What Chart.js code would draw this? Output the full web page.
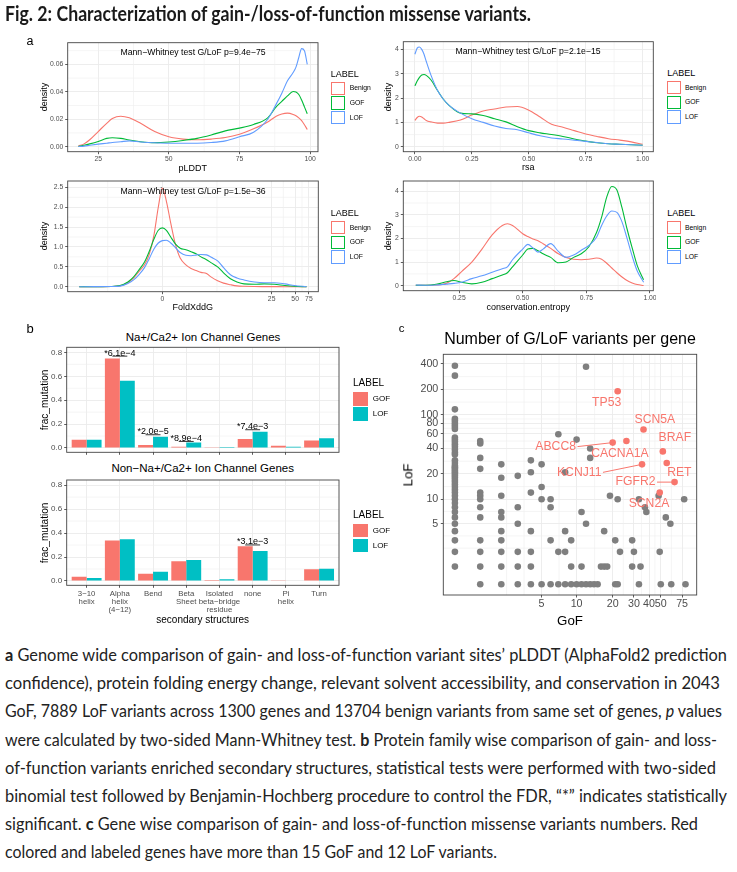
<!DOCTYPE html>
<html><head><meta charset="utf-8"><title>Fig. 2</title>
<script src="https://cdn.jsdelivr.net/npm/chart.js@4.4.1/dist/chart.umd.min.js"></script>
<style>
html,body{margin:0;padding:0;background:#fff;}
#fig{position:relative;width:737px;height:872px;overflow:hidden;font-family:'Liberation Sans',Arial,sans-serif;}
.t{position:absolute;white-space:nowrap;line-height:1;color:#000;}
.fit{position:absolute;left:5px;white-space:nowrap;transform-origin:0 50%;}
.cap{font-family:Lato,'Open Sans',sans-serif;font-size:17px;line-height:20px;color:#222;}
.ttl{font-family:Lato,'Open Sans',sans-serif;font-weight:bold;font-size:20px;line-height:22px;color:#1a1a1a;}
.key{position:absolute;box-sizing:border-box;}
.box{position:absolute;}
</style></head>
<body><div id="fig"></div>
<script>
// ---------------- DATA ----------------
// Panel a: density curves
const plddtX      = [18,20,22,25,28,30,33,36,40,45,50,55,60,65,70,75,80,85,88,90,92,94,95,96,97,98,99];
const plddtBenign = [0.0005,0.002,0.005,0.011,0.017,0.0205,0.0222,0.021,0.017,0.011,0.0072,0.0055,0.005,0.0055,0.0066,0.009,0.013,0.018,0.0222,0.0238,0.0244,0.0235,0.0225,0.021,0.019,0.016,0.0125];
const plddtGOF    = [0.0002,0.001,0.002,0.0038,0.006,0.0065,0.006,0.0048,0.0036,0.0029,0.0034,0.0045,0.006,0.0085,0.0115,0.0135,0.0162,0.021,0.029,0.033,0.037,0.0402,0.0398,0.038,0.034,0.029,0.024];
const plddtLOF    = [0.0001,0.0004,0.001,0.0018,0.0025,0.003,0.0036,0.0042,0.0034,0.0028,0.0025,0.0025,0.0025,0.003,0.0042,0.0072,0.0105,0.02,0.031,0.039,0.048,0.054,0.058,0.065,0.0715,0.07,0.06];

const rsaX      = [0,0.01,0.02,0.03,0.04,0.05,0.07,0.1,0.125,0.15,0.2,0.25,0.3,0.35,0.4,0.45,0.5,0.55,0.6,0.65,0.7,0.75,0.8,0.85,0.9,0.95,1.0];
const rsaBenign = [1.08,1.2,1.25,1.22,1.15,1.08,1.02,0.97,0.97,1.0,1.1,1.3,1.47,1.55,1.63,1.65,1.5,1.22,0.92,0.8,0.66,0.52,0.42,0.33,0.27,0.2,0.1];
const rsaGOF    = [2.5,2.7,2.85,2.95,2.97,2.93,2.75,2.3,1.95,1.7,1.38,1.35,1.28,1.15,1.02,0.82,0.66,0.57,0.5,0.42,0.32,0.23,0.16,0.12,0.1,0.08,0.06];
const rsaLOF    = [3.8,4.05,4.1,4.0,3.8,3.5,2.95,2.3,1.95,1.7,1.38,1.15,1.0,0.85,0.75,0.7,0.57,0.45,0.36,0.32,0.27,0.22,0.17,0.12,0.1,0.08,0.06];

const foldxX      = [-11.5,-7.3,-4.3,-3.2,-2.4,-1.9,-1.5,-1.1,-0.8,-0.5,-0.24,0,0.24,0.5,0.8,1.1,1.5,1.9,2.4,2.8,3.4,4,4.9,5.9,7.3,8.9,11,15,20,27,37,49,70];
const foldxBenign = [0,0,0.005,0.02,0.1,0.22,0.38,0.55,0.8,1.3,2.0,2.48,2.15,1.6,1.05,0.72,0.55,0.46,0.4,0.36,0.33,0.24,0.15,0.09,0.05,0.02,0.01,0.004,0.002,0.001,0,0,0];
const foldxGOF    = [0,0.002,0.006,0.03,0.12,0.25,0.42,0.62,0.88,1.2,1.42,1.48,1.42,1.25,1.07,0.97,0.93,0.88,0.82,0.75,0.68,0.6,0.5,0.35,0.2,0.12,0.07,0.06,0.07,0.06,0.03,0.01,0];
const foldxLOF    = [0,0.001,0.003,0.015,0.08,0.17,0.3,0.48,0.7,0.95,1.1,1.16,1.17,1.1,0.98,0.86,0.79,0.78,0.8,0.81,0.8,0.74,0.65,0.48,0.3,0.22,0.17,0.12,0.1,0.1,0.07,0.03,0];

const entropyX      = [0.08,0.12,0.16,0.2,0.23,0.26,0.3,0.34,0.38,0.42,0.44,0.46,0.5,0.52,0.54,0.56,0.58,0.61,0.64,0.67,0.7,0.73,0.76,0.79,0.81,0.83,0.85,0.87,0.89,0.91,0.93,0.95,0.975];
const entropyBenign = [0.02,0.02,0.03,0.1,0.3,0.6,1.0,1.55,2.15,2.55,2.62,2.55,2.2,2.08,1.98,1.9,1.78,1.58,1.35,1.2,1.12,1.1,1.12,1.17,1.12,0.95,0.75,0.55,0.37,0.22,0.12,0.05,0.01];
const entropyGOF    = [0.02,0.02,0.06,0.17,0.22,0.15,0.08,0.15,0.3,0.45,0.55,0.8,1.3,1.55,1.58,1.48,1.35,1.2,0.97,1.0,1.2,1.35,1.65,2.25,2.9,3.75,4.2,4.05,3.3,2.4,1.6,0.85,0.25];
const entropyLOF    = [0.03,0.02,0.03,0.07,0.1,0.15,0.3,0.42,0.57,0.72,0.8,1.1,1.55,1.75,1.6,1.42,1.55,1.78,1.45,1.2,1.3,1.5,1.7,2.05,2.55,2.95,3.16,3.1,2.7,2.0,1.25,0.62,0.15];

const pTexts = ['Mann\u2212Whitney test G/LoF p=9.4e\u221275','Mann\u2212Whitney test G/LoF p=2.1e\u221215','Mann\u2212Whitney test G/LoF p=1.5e\u221236'];
const densityLabels = ['Benign','GOF','LOF'];

// Panel b: fraction of mutations per secondary structure
const structures = [['3\u221210','helix'],['Alpha','helix','(4\u221212)'],['Bend'],['Beta','Sheet'],['Isolated','beta\u2212bridge','residue'],['none'],['Pi','helix'],['Turn']];
const ionGOF    = [0.07,0.75,0.025,0.01,0.002,0.075,0.018,0.062];
const ionLOF    = [0.07,0.563,0.095,0.045,0.009,0.137,0.011,0.081];
const nonIonGOF = [0.036,0.337,0.061,0.164,0.008,0.29,0.003,0.098];
const nonIonLOF = [0.025,0.348,0.078,0.176,0.014,0.25,0.005,0.103];
const ionSig    = [[1,'*6.1e\u22124',0.769],[2,'*2.0e\u22125',0.111],[3,'*8.9e\u22124',0.055],[5,'*7.4e\u22123',0.153]];
const nonIonSig = [[5,'*3.1e\u22123',0.301]];
const barLabels = ['GOF','LOF'];

// Panel c: variants per gene (GoF count, list of LoF counts)
const greyByGoF = [
 [0,[380,290,116,90,85,80,76,72,68,54,51,48,45,42,39,36,34,29,27,25,24,23,22,21,20,19,18,17,16,15,14,13,12,11,10,9,8,7,6,5,4,3,2,1]],
 [1,[49,46,31,23,12,11,10,8,6,3,2,1,0]],
 [2,[26,18,11,7,6,4,3,2,1,0]],
 [3,[19,8,5,2,1,0]],
 [4,[29,21,12,4,2,1,0]],
 [5,[26,14,10,0]],
 [6,[10,8,3,0]],
 [7,[59,2,0]],
 [8,[21,4,2,0]],
 [9,[3,1,0]],
 [10,[51,0]],
 [11,[7,1,0]],
 [12,[370,5,0]],
 [13,[40,31,0]],
 [14,[0]],[15,[0]],[16,[1]],[17,[4,1]],[18,[1]],[19,[11]],[21,[3,0]],[22,[10,0]],[23,[2]],
 [29,[3,1]],[30,[2]],[33,[10,0]],[34,[1]],[37,[8]],[38,[7]],[48,[11]],[49,[2]],[50,[0]],
 [55,[6]],[60,[5]],[61,[0]],[78,[10]],[80,[0]]
];
const redGenes = ['TP53','SCN5A','BRAF','RET','ABCC8','CACNA1A','KCNJ11','FGFR2','SCN2A'];
const redGoF   = [22,36,52,56,20,26,35,65,49];
const redLoF   = [190,67,37,27,47,49,26,16,12];
const gofBreaks = [5,10,20,30,40,50,75];
const lofBreaks = [5,10,20,40,60,80,100,200,400];

// ---------------- STYLE / LAYOUT ----------------
const COL = {benign:'#F8766D', gof:'#00BA38', lof:'#619CFF', barG:'#F8766D', barL:'#00BFC4', grey:'#7F7F7F', red:'#F8766D'};
const fig = document.getElementById('fig');
Chart.defaults.font.family = "'Liberation Sans', Arial, sans-serif";
Chart.defaults.animation = false;
Chart.defaults.events = [];
Chart.defaults.plugins.legend.display = false;
Chart.defaults.plugins.tooltip.enabled = false;

// ggplot-like pseudo-log (asinh(x/2)) axis
class PseudoLogScale extends Chart.LinearScale {
  buildTicks(){ return []; }
  configure(){ super.configure(); this._t0 = Math.asinh(this.min/2); this._t1 = Math.asinh(this.max/2); }
  getPixelForValue(v){ if (v === null || v === undefined) return NaN; return this.getPixelForDecimal((Math.asinh(v/2)-this._t0)/(this._t1-this._t0)); }
  getValueForPixel(p){ const d = this.getDecimalForPixel(p); return 2*Math.sinh(this._t0 + d*(this._t1-this._t0)); }
}
PseudoLogScale.id = 'pseudolog';
PseudoLogScale.defaults = Chart.LinearScale.defaults;
Chart.register(PseudoLogScale);

// minor grid + panel border
const ggPanel = {
  id:'ggPanel',
  beforeDatasetsDraw(chart, args, opts){
    const {ctx, chartArea:a, scales} = chart;
    ctx.save(); ctx.strokeStyle = '#EFEFEF'; ctx.lineWidth = 0.6;
    (opts.minorX||[]).forEach(v=>{ const p = scales.x.getPixelForValue(v); if (p>a.left && p<a.right){ ctx.beginPath(); ctx.moveTo(p,a.top); ctx.lineTo(p,a.bottom); ctx.stroke(); }});
    (opts.minorY||[]).forEach(v=>{ const p = scales.y.getPixelForValue(v); if (p>a.top && p<a.bottom){ ctx.beginPath(); ctx.moveTo(a.left,p); ctx.lineTo(a.right,p); ctx.stroke(); }});
    ctx.restore();
  },
  afterDatasetsDraw(chart){
    const {ctx, chartArea:a} = chart;
    ctx.save(); ctx.strokeStyle = '#444'; ctx.lineWidth = 0.9;
    ctx.strokeRect(a.left, a.top, a.right-a.left, a.bottom-a.top); ctx.restore();
  }
};
Chart.register(ggPanel);

const sigPlugin = {
  id:'sigMarks',
  afterDatasetsDraw(chart, args, opts){
    const {ctx, scales:{x,y}} = chart;
    ctx.save(); ctx.strokeStyle = '#000'; ctx.fillStyle = '#000'; ctx.lineWidth = 0.8;
    ctx.font = "9px 'Liberation Sans', Arial"; ctx.textAlign = 'center'; ctx.textBaseline = 'alphabetic';
    (opts.items||[]).forEach(([c,text,yv])=>{
      const yy = y.getPixelForValue(yv);
      ctx.beginPath(); ctx.moveTo(x.getPixelForValue(c-0.225), yy); ctx.lineTo(x.getPixelForValue(c+0.225), yy); ctx.stroke();
      ctx.fillText(text, x.getPixelForValue(c), yy-0.6);
    });
    ctx.restore();
  }
};

const geneLabelPlugin = {
  id:'geneLabels',
  afterDatasetsDraw(chart, args, opts){
    const {ctx, scales:{x,y}} = chart;
    ctx.save(); ctx.font = "12.2px 'Liberation Sans', Arial"; ctx.fillStyle = COL.red; ctx.strokeStyle = COL.red;
    ctx.lineWidth = 1; ctx.textAlign = 'center'; ctx.textBaseline = 'middle';
    redGenes.forEach((g,i)=>{
      const px = x.getPixelForValue(redGoF[i]), py = y.getPixelForValue(redLoF[i]);
      const [dx,dy,seg] = opts.offsets[i];
      const tx = px+dx, ty = py+dy;
      if (seg){ const w = ctx.measureText(g).width; ctx.beginPath(); ctx.moveTo(tx+w/2+1.5, ty); ctx.lineTo(px,py); ctx.stroke(); }
      ctx.fillText(g, tx, ty);
    });
    ctx.restore();
  }
};

function axis(type, min, max, ticks, fmt, size, extra){
  const o = {
    type, min, max, bounds:'data', offset:false,
    afterBuildTicks: s => { s.ticks = ticks.map(v=>({value:v})); },
    grid:{color:'#EBEBEB', lineWidth:0.9, tickColor:'#333', tickLength:2.5, tickWidth:0.8, drawTicks:true, offset:false},
    border:{display:false},
    ticks:{autoSkip:false, maxRotation:0, minRotation:0, color:'#4D4D4D', font:{size, lineHeight:1}, padding:2, callback:fmt}
  };
  if (extra){ if (extra.ticks) Object.assign(o.ticks, extra.ticks); }
  return o;
}

function panel(rect, m, config){
  const L = Math.floor(rect.l-m.L), T = Math.floor(rect.t-m.T), R = Math.ceil(rect.r+m.R), B = Math.ceil(rect.b+m.B);
  const cv = document.createElement('canvas');
  cv.width = R-L; cv.height = B-T;
  cv.style.cssText = `position:absolute;left:${L}px;top:${T}px;width:${R-L}px;height:${B-T}px`;
  fig.appendChild(cv);
  const o = config.options;
  o.responsive = false; o.maintainAspectRatio = false;
  o.layout = {autoPadding:false, padding:{left:0, top:rect.t-T, right:R-rect.r, bottom:0}};
  const yW = rect.l-L, xH = B-rect.b;
  o.scales.x.afterFit = s => { s.height = xH; s.paddingLeft = 0; s.paddingRight = 0; };
  o.scales.y.afterFit = s => { s.width = yW; s.paddingTop = 0; s.paddingBottom = 0; };
  return new Chart(cv, config);
}

function dens(xs, ys, color, order){
  return {data: xs.map((x,i)=>({x, y:ys[i]})), borderColor:color, borderWidth:1.1, pointRadius:0, fill:false, cubicInterpolationMode:'monotone', order};
}

function txt(s, x, y, o){
  o = o || {};
  const d = document.createElement('div'); d.className = 't'; d.textContent = s;
  d.style.fontSize = (o.size||9)+'px';
  if (o.color) d.style.color = o.color;
  const ax = o.align==='left' ? '0' : (o.align==='right' ? '-100%' : '-50%');
  d.style.left = x+'px'; d.style.top = y+'px';
  d.style.transform = `translate(${ax},-50%)` + (o.rot ? ` rotate(${o.rot}deg)` : '');
  fig.appendChild(d); return d;
}

function legend(x, y, title, labels, colors, o){
  txt(title, x, y, {size:o.titleSize, align:'left'});
  labels.forEach((lab,i)=>{
    const cy = y + o.offsets[i];
    const k = document.createElement('div'); k.className = 'key';
    k.style.left = x+'px'; k.style.top = (cy-o.keyH/2)+'px'; k.style.width = o.keyW+'px'; k.style.height = o.keyH+'px';
    if (o.fill) k.style.background = colors[i]; else { k.style.border = '1px solid '+colors[i]; k.style.background = '#fff'; }
    fig.appendChild(k);
    txt(lab, o.textX, cy, {size:o.textSize, align:'left', color:'#000'});
  });
}

// ---------------- PANEL a ----------------
const mA = {L:34, T:3, R:2, B:12};
const densColors = [COL.benign, COL.gof, COL.lof];
function densChart(rect, xs, series, xAxis, yAxis, minorX, minorY){
  return panel(rect, mA, {type:'line',
    data:{datasets: series.map((s,i)=>dens(xs, s, densColors[i], 2-i))},
    options:{plugins:{ggPanel:{minorX, minorY}}, scales:{x:xAxis, y:yAxis}}});
}
densChart({l:67.7,t:42.7,r:318,b:151.7}, plddtX, [plddtBenign,plddtGOF,plddtLOF],
  axis('linear',14.2,102.8,[25,50,75,100],v=>String(v),6.8),
  axis('linear',-0.0037,0.0758,[0,0.02,0.04,0.06],v=>v.toFixed(2),6.8),
  [37.5,62.5,87.5],[0.01,0.03,0.05,0.07]);
densChart({l:403.3,t:41.7,r:653.3,b:151.7}, rsaX, [rsaBenign,rsaGOF,rsaLOF],
  axis('linear',-0.051,1.047,[0,0.25,0.5,0.75,1],v=>v.toFixed(2),6.8),
  axis('linear',-0.205,4.315,[0,1,2,3,4],v=>String(v),6.8),
  [0.125,0.375,0.625,0.875],[0.5,1.5,2.5,3.5]);
densChart({l:67.7,t:181,r:318.3,b:291.7}, foldxX, [foldxBenign,foldxGOF,foldxLOF],
  axis('pseudolog',-16.2,99,[0,25,50,75],v=>String(v),6.8),
  axis('linear',-0.126,2.66,[0,0.5,1,1.5,2,2.5],v=>v.toFixed(1),6.8),
  [-4.8,4.8,35.35,61.22],[0.25,0.75,1.25,1.75,2.25]);
densChart({l:403.3,t:181,r:653.3,b:290.7}, entropyX, [entropyBenign,entropyGOF,entropyLOF],
  axis('linear',0.031,1.013,[0.25,0.5,0.75,1],v=>v.toFixed(2),6.8),
  axis('linear',-0.21,4.43,[0,1,2,3,4],v=>String(v),6.8),
  [0.125,0.375,0.625,0.875],[0.5,1.5,2.5,3.5]);

txt('a', 30, 41, {size:12.5});
txt(pTexts[0], 193, 52, {size:8.7});
txt(pTexts[1], 528, 50.7, {size:8.7});
txt(pTexts[2], 193, 190.7, {size:8.7});
txt('density', 44.3, 97, {size:9, rot:-90});
txt('density', 388.3, 96.7, {size:9, rot:-90});
txt('density', 44.3, 236, {size:9, rot:-90});
txt('density', 388.3, 236, {size:9, rot:-90});
txt('pLDDT', 192.7, 167.7, {size:9});
txt('rsa', 528.3, 166.7, {size:9});
txt('FoldXddG', 192.7, 306.7, {size:9});
txt('conservation.entropy', 528.3, 307.3, {size:9});
const legA = {titleSize:9, textSize:6.8, keyW:14, keyH:13.4, offsets:[14.4,29.1,43.8], fill:false};
legend(330.7, 74, 'LABEL', densityLabels, densColors, Object.assign({textX:349.7}, legA));
legend(667.3, 73.3, 'LABEL', densityLabels, densColors, Object.assign({textX:685}, legA));
legend(330.7, 213.3, 'LABEL', densityLabels, densColors, Object.assign({textX:349.7}, legA));
legend(667.3, 213.3, 'LABEL', densityLabels, densColors, Object.assign({textX:685}, legA));

// ---------------- PANEL b ----------------
function barChart(rect, m, gof, lof, sig, showLabels){
  return panel(rect, m, {type:'bar',
    data:{datasets:[
      {data: gof.map((v,i)=>({x:i, y:v})), backgroundColor:COL.barG, categoryPercentage:0.9, barPercentage:1, borderWidth:0},
      {data: lof.map((v,i)=>({x:i, y:v})), backgroundColor:COL.barL, categoryPercentage:0.9, barPercentage:1, borderWidth:0}
    ]},
    options:{plugins:{ggPanel:{minorY:[0.1,0.3,0.5,0.7]}, sigMarks:{items:sig}},
      scales:{
        x: axis('linear',-0.6,7.6,structures.map((s,i)=>i), showLabels ? (v=>structures[v]) : (()=>''), 7.8,
                {ticks:{padding:1.5, font:{size:7.8, lineHeight:1.07}}}),
        y: axis('linear',-0.036,0.843,[0,0.2,0.4,0.6,0.8], v=>v.toFixed(1), 8)
      }},
    plugins:[sigPlugin]});
}
barChart({l:66.7,t:347.3,r:339,b:452.3}, {L:30,T:3,R:2,B:8}, ionGOF, ionLOF, ionSig, false);
barChart({l:66.7,t:480,r:339,b:585.3}, {L:30,T:3,R:2,B:30}, nonIonGOF, nonIonLOF, nonIonSig, true);

txt('b', 30, 328, {size:13});
txt('Na+/Ca2+ Ion Channel Genes', 203, 337.7, {size:11.5});
txt('Non\u2212Na+/Ca2+ Ion Channel Genes', 202.7, 469.3, {size:11.5});
txt('frac_mutation', 45, 399.8, {size:10, rot:-90});
txt('frac_mutation', 45, 532.7, {size:10, rot:-90});
txt('secondary structures', 202.7, 620, {size:10});
const legB = {titleSize:10, textSize:8, keyW:14.5, keyH:13.5, offsets:[15.7,30.7], fill:true};
legend(353, 383.3, 'LABEL', barLabels, [COL.barG, COL.barL], Object.assign({textX:372.7}, legB));
legend(353, 515, 'LABEL', barLabels, [COL.barG, COL.barL], Object.assign({textX:372.7}, legB));

// ---------------- PANEL c ----------------
const greyPts = [];
greyByGoF.forEach(([g, lofs]) => lofs.forEach(l => greyPts.push({x:g, y:l})));
const redPts = redGoF.map((g,i)=>({x:g, y:redLoF[i]}));
panel({l:443.3,t:354.3,r:696.7,b:595}, {L:36,T:3,R:3,B:16}, {type:'scatter',
  data:{datasets:[
    {data:greyPts, backgroundColor:COL.grey, pointRadius:3.3, borderWidth:0, order:1},
    {data:redPts, backgroundColor:COL.red, pointRadius:3.3, borderWidth:0, order:0}
  ]},
  options:{plugins:{
      ggPanel:{minorX:[2.295,3.455,7.103,14.16,24.5,34.63,44.73,61.22], minorY:[2.295,3.455,7.103,14.16,28.3,48.98,69.3,89.45,141.4,282.8]},
      geneLabels:{offsets:[[-11,11],[11.4,-10.3],[12,-13.7],[12.6,9.3],[-57,4,true],[-6.5,12.2],[-62.8,8,true],[-39,0,true],[-10.7,10.7]]}
    },
    scales:{
      x: axis('pseudolog',-0.445,99,gofBreaks,v=>String(v),10.7, {ticks:{padding:1.5}}),
      y: axis('pseudolog',-0.59,518,lofBreaks,v=>String(v),10.7, {ticks:{padding:2.5}})
    }},
  plugins:[geneLabelPlugin]});

txt('c', 401.7, 329, {size:11.5});
txt('Number of G/LoF variants per gene', 570, 339, {size:16});
txt('GoF', 570, 621, {size:13.3});
txt('LoF', 408.3, 474.7, {size:13.3, rot:-90});

// ---------------- TITLE & CAPTION ----------------
function fitLine(html, cls, top, target){
  const d = document.createElement('div'); d.className = 'fit '+cls; d.innerHTML = html; d.style.top = top+'px';
  fig.appendChild(d);
  const w = d.getBoundingClientRect().width;
  d.style.transform = `scaleX(${target/w})`;
  return d;
}
fitLine('Fig. 2: Characterization of gain-/loss-of-function missense variants.', 'ttl', 2, 526);
const capLines = [
  ['<b>a</b> Genome wide comparison of gain- and loss-of-function variant sites\u2019 pLDDT (AlphaFold2 prediction', 722],
  ['confidence), protein folding energy change, relevant solvent accessibility, and conservation in 2043', 715],
  ['GoF, 7889 LoF variants across 1300 genes and 13704 benign variants from same set of genes, <i>p</i> values', 717],
  ['were calculated by two-sided Mann-Whitney test. <b>b</b> Protein family wise comparison of gain- and loss-', 712],
  ['of-function variants enriched secondary structures, statistical tests were performed with two-sided', 711],
  ['binomial test followed by Benjamin-Hochberg procedure to control the FDR, \u201c*\u201d indicates statistically', 722],
  ['significant. <b>c</b> Gene wise comparison of gain- and loss-of-function missense variants numbers. Red', 693],
  ['colored and labeled genes have more than 15 GoF and 12 LoF variants.', 492]
];
capLines.forEach(([h,w],i)=>fitLine(h, 'cap', 645 + 28.2*i, w));
</script>
</body></html>
